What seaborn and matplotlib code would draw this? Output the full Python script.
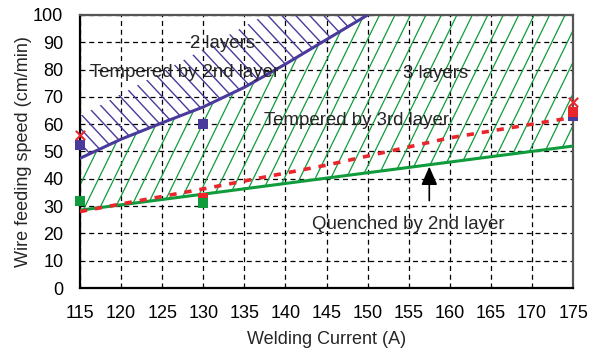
import numpy as np
import pandas as pd
import seaborn as sns
import matplotlib
matplotlib.use("Agg")
import matplotlib.pyplot as plt
from matplotlib.collections import LineCollection
from matplotlib.patches import Polygon
from matplotlib.transforms import IdentityTransform

# Boundary curves (welding current A -> wire feeding speed cm/min)
blue_x = [115, 120, 125, 130, 135, 140, 145, 150]
blue_y = [47.5, 54.5, 60.5, 66.3, 73.5, 82.0, 91.0, 100.0]
green_x = [115, 175]
green_y = [28.5, 52.0]
red_x = [115, 130, 145, 160, 175]
red_y = [28.0, 36.3, 45.0, 55.0, 62.5]

# Upper edge of the hatched "2 layers" band
band_x = [115, 120, 127, 137.5]
band_y = [63, 71, 82.5, 100]

# Measured points
cross_x = [115, 175]
cross_y = [56, 68]
blue_sq_x = [115, 130, 175]
blue_sq_y = [52.5, 60, 63]
red_sq_x = [130, 175]
red_sq_y = [33, 64.5]
green_sq_x = [115, 130]
green_sq_y = [32, 31]

arrow_x = 157.5
arrow_tail, arrow_head = 31, 45.5

x_ticks = list(range(115, 180, 5))
y_ticks = list(range(0, 110, 10))

BLUE = "#4a3a9c"
GREEN = "#109c3c"
RED = "#e8262c"

sns.set_theme(style="white")
plt.rcParams["font.family"] = ["Liberation Sans", "DejaVu Sans"]

fig = plt.figure(figsize=(5.97, 3.56), dpi=100)
ax = fig.add_axes([0.134, 0.191, 0.826, 0.767])
ax.set_xlim(115, 175)
ax.set_ylim(0, 100)

# Region polygons
xs = np.linspace(115, 175, 241)
blue_curve = np.interp(xs, blue_x, blue_y)
top_curve = np.minimum(np.where(xs <= 150, blue_curve, 100), 100)
green_curve = np.interp(xs, green_x, green_y)
green_poly = np.vstack([np.column_stack([xs, green_curve]),
                        np.column_stack([xs[::-1], top_curve[::-1]])])
bx = xs[xs <= 150]
band_top = np.where(bx <= 137.5, np.interp(bx, band_x, band_y), 100.0)
band_top = np.minimum(band_top, 100.0)
blue_poly = np.vstack([np.column_stack([bx, np.interp(bx, blue_x, blue_y)]),
                       np.column_stack([bx[::-1], band_top[::-1]])])

fig.canvas.draw()


def hatch(poly_pts, angle_deg, spacing_px, color, lw):
    patch = Polygon(poly_pts, closed=True, transform=ax.transData,
                    facecolor="none", edgecolor="none")
    ax.add_patch(patch)
    bb = ax.bbox
    a = np.deg2rad(angle_deg)
    d = np.array([np.cos(a), np.sin(a)])
    n = np.array([-d[1], d[0]])
    c = np.array([bb.x0 + bb.width / 2, bb.y0 + bb.height / 2])
    L = bb.width + bb.height
    segs = [[c + n * k - d * L, c + n * k + d * L]
            for k in np.arange(-L, L, spacing_px)]
    lc = LineCollection(segs, colors=color, linewidths=lw,
                        transform=IdentityTransform(), zorder=1.5)
    ax.add_collection(lc, autolim=False)
    lc.set_clip_path(patch)


hatch(green_poly, 64, 13.9, GREEN, 0.9)
hatch(blue_poly, -47, 10.2, BLUE, 1.0)

# Boundary lines
df_blue = pd.DataFrame({"x": blue_x, "y": blue_y})
df_green = pd.DataFrame({"x": green_x, "y": green_y})
df_red = pd.DataFrame({"x": red_x, "y": red_y})
sns.lineplot(data=df_blue, x="x", y="y", ax=ax, color=BLUE, lw=2.2, zorder=3)
sns.lineplot(data=df_green, x="x", y="y", ax=ax, color=GREEN, lw=2.2, zorder=3)
sns.lineplot(data=df_red, x="x", y="y", ax=ax, color=RED, lw=2.6, zorder=3,
             dashes=False, linestyle=(0, (2.0, 2.2)))

# Measured points
sns.scatterplot(x=blue_sq_x, y=blue_sq_y, ax=ax, marker="s", s=60,
                color=BLUE, linewidth=0, zorder=4, clip_on=False)
sns.scatterplot(x=red_sq_x, y=red_sq_y, ax=ax, marker="s", s=60,
                color=RED, linewidth=0, zorder=5, clip_on=False)
sns.scatterplot(x=green_sq_x, y=green_sq_y, ax=ax, marker="s", s=60,
                color=GREEN, linewidth=0, zorder=6, clip_on=False)
sns.scatterplot(x=cross_x, y=cross_y, ax=ax, marker="x", s=45,
                color=RED, linewidth=1.5, zorder=6, clip_on=False)

# Arrow pointing at the quench boundary
ax.annotate("", xy=(arrow_x, arrow_head), xytext=(arrow_x, arrow_tail),
            arrowprops=dict(arrowstyle="-|>,head_length=0.8,head_width=0.35",
                            color="black", lw=1.2, mutation_scale=14),
            zorder=7)

fs = 13.4
ax.text(132.3, 89.7, "2 layers", ha="center", va="center", fontsize=fs, zorder=8)
ax.text(127.7, 79.0, "Tempered by 2nd layer", ha="center", va="center", fontsize=fs, zorder=8)
ax.text(158.3, 78.7, "3 layers", ha="center", va="center", fontsize=fs, zorder=8)
ax.text(148.7, 61.5, "Tempered by 3rd layer", ha="center", va="center", fontsize=fs, zorder=8)
ax.text(154.9, 23.4, "Quenched by 2nd layer", ha="center", va="center", fontsize=fs, zorder=8)

# Grid, ticks and frame
ax.set_xticks(x_ticks)
ax.set_yticks(y_ticks)
ax.grid(True, color="black", linestyle=(0, (4, 3)), lw=0.9)
ax.set_axisbelow(True)
ax.tick_params(axis="both", length=0, labelsize=13, colors="black")
ax.tick_params(axis="x", pad=12)
ax.tick_params(axis="y", pad=12)
ax.set_xlabel("Welding Current (A)", fontsize=13, labelpad=7)
ax.set_ylabel("Wire feeding speed (cm/min)", fontsize=13, labelpad=1)
for side in ("left", "bottom"):
    ax.spines[side].set_color("black")
    ax.spines[side].set_linewidth(1.6)
for side in ("top", "right"):
    ax.spines[side].set_color("#555555")
    ax.spines[side].set_linewidth(1.6)

fig.savefig("out.png", dpi=100)
